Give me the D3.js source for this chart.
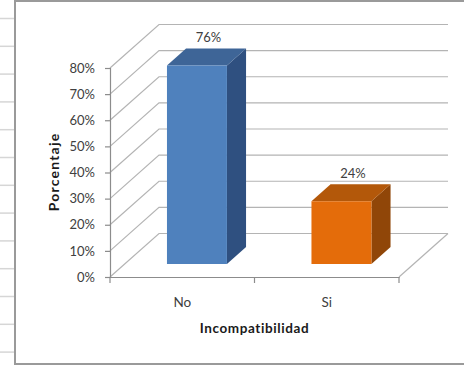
<!DOCTYPE html>
<html>
<head>
<meta charset="utf-8">
<script src="https://cdn.jsdelivr.net/npm/d3@7/dist/d3.min.js"></script>
<style>
  html, body { margin: 0; padding: 0; background: #fff; }
  svg { display: block; font-family: Lato, "Open Sans", sans-serif; }
</style>
</head>
<body>
<svg id="chart" width="464" height="367"></svg>
<script>
// Data
const categories = ["No", "Si"];
const values = [76, 24];
const yTicks = [0, 10, 20, 30, 40, 50, 60, 70, 80];
const xTitle = "Incompatibilidad";
const yTitle = "Porcentaje";

// Bar colours: front, top, side
const palettes = [
  { front: "#4F81BD", top: "#3E6597", side: "#2F5080" },
  { front: "#E46C0A", top: "#B3580A", side: "#904608" }
];

const svg = d3.select("#chart");

// Worksheet cell lines around the chart object
const sheet = svg.append("g");
d3.range(13).forEach(i => {
  const yy = 18.5 + i * 27.8;
  sheet.append("line").attr("x1", 0).attr("x2", 14).attr("y1", yy).attr("y2", yy)
    .attr("stroke", "#d6d6d6").attr("stroke-width", 1.5);
});

// Chart frame
svg.append("rect").attr("x", 15).attr("y", 1).attr("width", 460).attr("height", 363)
  .attr("fill", "#fff").attr("stroke", "#9a9a9a").attr("stroke-width", 2);

// Plot geometry (front plane + depth offset)
const DX = 49, DY = 43.5;
const x = d3.scaleBand().domain(categories).range([110, 399]).padding(0);
const y = d3.scaleLinear().domain([0, 80]).range([277, 68]);
const proj = (xf, v, d) => [xf + d * DX, y(v) - d * DY];
const xLeft = x.range()[0], xRight = x.range()[1];

const grid = svg.append("g").attr("stroke", "#b4b4b4").attr("stroke-width", 1.2).attr("fill", "none");
// Back wall horizontal lines and left wall diagonals
yTicks.forEach(t => {
  const a = proj(xLeft, t, 0), b = proj(xLeft, t, 1), c = proj(xRight, t, 1);
  grid.append("polyline").attr("points", [a, b, c].map(p => p.join(",")).join(" "));
});
// Floor right edge
{
  const a = proj(xRight, 0, 0), b = proj(xRight, 0, 1);
  grid.append("line").attr("x1", a[0]).attr("y1", a[1]).attr("x2", b[0]).attr("y2", b[1]);
}

// Bars (boxes placed in the middle of the depth)
const d0 = 0.3, d1 = 0.69;
const barFrac = 0.415;
const bars = svg.append("g");
categories.forEach((cat, i) => {
  const v = values[i];
  const cx = x(cat) + x.bandwidth() / 2;
  const w = x.bandwidth() * barFrac;
  const xl = cx - w / 2, xr = cx + w / 2;
  const p = palettes[i];
  const pts = arr => arr.map(q => q.join(",")).join(" ");
  // side face
  bars.append("polygon").attr("fill", p.side)
    .attr("points", pts([proj(xr, 0, d0), proj(xr, v, d0), proj(xr, v, d1), proj(xr, 0, d1)]));
  // top face
  bars.append("polygon").attr("fill", p.top)
    .attr("points", pts([proj(xl, v, d0), proj(xr, v, d0), proj(xr, v, d1), proj(xl, v, d1)]));
  // front face
  bars.append("polygon").attr("fill", p.front)
    .attr("points", pts([proj(xl, 0, d0), proj(xr, 0, d0), proj(xr, v, d0), proj(xl, v, d0)]));
  // value label above the box
  const lp = proj(cx, v, (d0 + d1) / 2);
  bars.append("text").attr("x", lp[0] + 2).attr("y", lp[1] - 15)
    .attr("text-anchor", "middle").attr("font-size", 13).attr("fill", "#404040")
    .text(v + "%");
});

// Y axis
const yAxis = svg.append("g").attr("transform", `translate(${xLeft},0)`)
  .call(d3.axisLeft(y).tickValues(yTicks).tickFormat(d => d + "%").tickSize(5).tickPadding(10));
yAxis.select(".domain").attr("stroke", "#8c8c8c").attr("stroke-width", 1.2);
yAxis.selectAll(".tick line").attr("stroke", "#8c8c8c").attr("stroke-width", 1.2);
yAxis.selectAll(".tick text").attr("font-size", 13).attr("fill", "#404040")
  .attr("font-family", "Lato, sans-serif");

// X axis
const xAxis = svg.append("g").attr("transform", `translate(0,${y(0)})`)
  .call(d3.axisBottom(x).tickSize(0).tickPadding(20));
xAxis.select(".domain").attr("stroke", "#8c8c8c").attr("stroke-width", 1.2);
xAxis.selectAll(".tick text").attr("font-size", 13.5).attr("fill", "#404040")
  .attr("font-family", "Lato, sans-serif");
// boundary tick marks between categories
const bounds = categories.map(c => x(c)).concat([xRight]);
xAxis.selectAll(".bound").data(bounds).enter().append("line")
  .attr("x1", d => d).attr("x2", d => d).attr("y1", 0).attr("y2", 6)
  .attr("stroke", "#8c8c8c").attr("stroke-width", 1.2);

// Axis titles
svg.append("text").attr("x", (xLeft + xRight) / 2).attr("y", 333)
  .attr("text-anchor", "middle").attr("font-size", 13.5).attr("font-weight", "bold")
  .attr("letter-spacing", 0.6).attr("fill", "#1a1a1a").text(xTitle);
svg.append("text").attr("transform", "translate(59,172) rotate(-90)")
  .attr("text-anchor", "middle").attr("font-size", 14).attr("font-weight", "bold")
  .attr("letter-spacing", 1.2).attr("fill", "#1a1a1a").text(yTitle);
</script>
</body>
</html>
